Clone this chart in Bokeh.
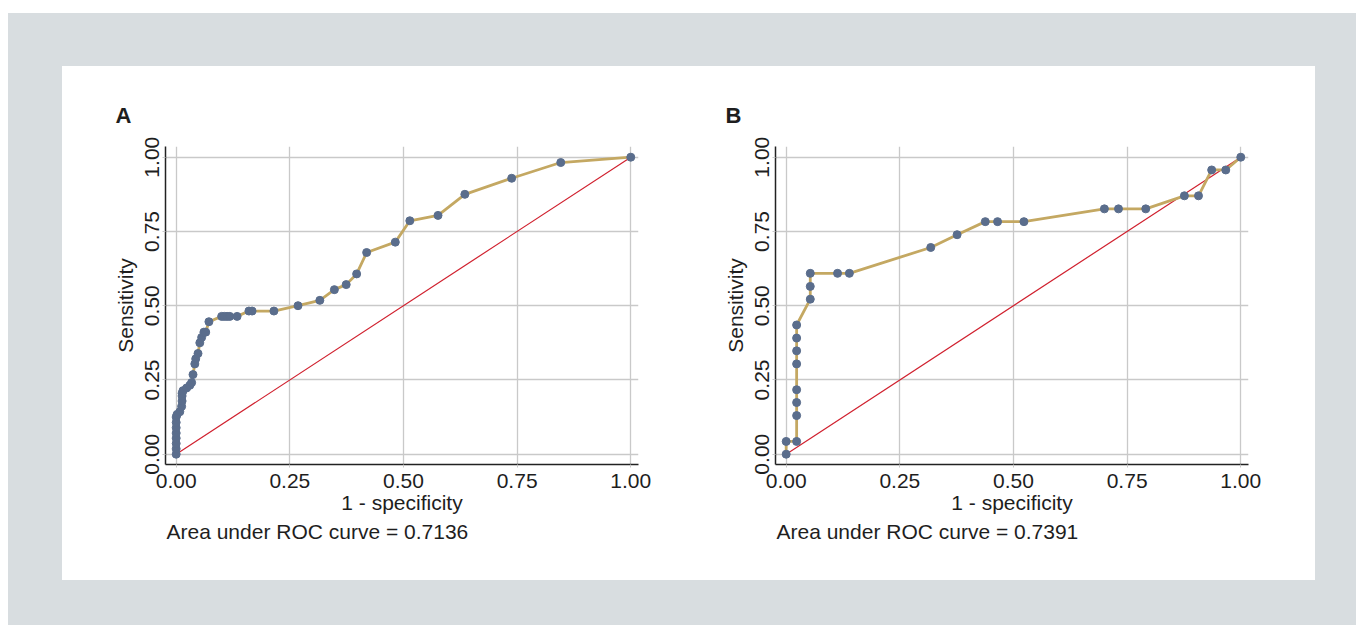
from bokeh.plotting import figure
from bokeh.layouts import row, column
from bokeh.models import Spacer, FixedTicker, Title, ColumnDataSource
from bokeh.embed import file_html
from bokeh.resources import INLINE

# ---- data ----
fpr_a = [0, 0, 0, 0, 0, 0, 0, 0,
         0.002, 0.008, 0.012, 0.013, 0.013, 0.013, 0.015, 0.023, 0.030, 0.034,
         0.037, 0.041, 0.043, 0.048, 0.052, 0.056, 0.061, 0.065, 0.072, 0.100,
         0.106, 0.112, 0.118, 0.134, 0.160, 0.167, 0.215, 0.268, 0.316, 0.348,
         0.374, 0.397, 0.419, 0.482, 0.514, 0.576, 0.635, 0.738, 0.846, 1.0]
tpr_a = [0, 0.018, 0.036, 0.054, 0.071, 0.089, 0.107, 0.125,
         0.134, 0.143, 0.161, 0.179, 0.196, 0.205, 0.214, 0.223, 0.232, 0.241,
         0.268, 0.304, 0.321, 0.339, 0.375, 0.393, 0.411, 0.411, 0.446, 0.464,
         0.464, 0.464, 0.464, 0.464, 0.482, 0.482, 0.482, 0.500, 0.518, 0.554,
         0.571, 0.607, 0.679, 0.714, 0.786, 0.804, 0.875, 0.929, 0.982, 1.0]

fpr_b = [0, 0, 0.023, 0.023, 0.023, 0.023, 0.023, 0.023, 0.023, 0.023,
         0.053, 0.053, 0.053, 0.113, 0.139, 0.318, 0.376, 0.438, 0.465, 0.523,
         0.700, 0.731, 0.791, 0.876, 0.907, 0.936, 0.967, 1.0]
tpr_b = [0, 0.043, 0.043, 0.130, 0.174, 0.217, 0.304, 0.348, 0.391, 0.435,
         0.522, 0.565, 0.609, 0.609, 0.609, 0.696, 0.739, 0.783, 0.783, 0.783,
         0.826, 0.826, 0.826, 0.870, 0.870, 0.957, 0.957, 1.0]

ref_x = [0, 1]
ref_y = [0, 1]

ticks = [0, 0.25, 0.5, 0.75, 1.0]
tick_labels = ["0.00", "0.25", "0.50", "0.75", "1.00"]

panel_titles = ["A", "B"]
auc_texts = ["Area under ROC curve = 0.7136", "Area under ROC curve = 0.7391"]
x_title = "1 - specificity"
y_title = "Sensitivity"

# ---- styles ----
GRAY = "#d8dde0"
FONT = "Liberation Sans"
CURVE = "#c4a862"
MARK = "#5a6d8c"
REF = "#d0202e"
GRID = "#c9c9c9"
TXT = "#1e1e1e"
FS = "21px"


def make_panel(fpr, tpr, title, auc, width):
    p = figure(width=width, height=514, output_backend="svg", toolbar_location=None,
               x_range=(-0.0235, 1.017), y_range=(-0.0347, 1.036),
               min_border_left=103, min_border_right=width - 103 - 473,
               min_border_top=80, min_border_bottom=116)
    p.border_fill_color = "white"
    p.background_fill_color = "white"
    p.outline_line_color = None

    p.title.text = title
    p.title.align = "left"
    p.title.offset = -50
    p.title.standoff = 37
    p.title.text_font = FONT
    p.title.text_font_size = "22px"
    p.title.text_font_style = "bold"
    p.title.text_color = TXT

    for ax in (p.xaxis[0], p.yaxis[0]):
        ax.ticker = FixedTicker(ticks=ticks)
        ax.major_label_overrides = {t: l for t, l in zip(ticks, tick_labels)}
        ax.axis_line_color = "#222222"
        ax.axis_line_width = 1.5
        ax.major_tick_in = 0
        ax.major_tick_out = 3
        ax.major_tick_line_color = GRID
        ax.minor_tick_line_color = None
        ax.major_label_text_font = FONT
        ax.major_label_text_font_size = FS
        ax.major_label_text_color = TXT
        ax.axis_label_text_font = FONT
        ax.axis_label_text_font_size = FS
        ax.axis_label_text_font_style = "normal"
        ax.axis_label_text_color = TXT

    p.xaxis.axis_label = x_title
    p.xaxis.major_label_standoff = 6
    p.xaxis.axis_label_standoff = 0
    p.yaxis.axis_label = y_title
    p.yaxis.major_label_orientation = "vertical"
    p.yaxis.major_label_standoff = 3
    p.yaxis.axis_label_standoff = 6

    p.xgrid.ticker = FixedTicker(ticks=ticks)
    p.ygrid.ticker = FixedTicker(ticks=ticks)
    for g in (p.xgrid[0], p.ygrid[0]):
        g.grid_line_color = GRID
        g.grid_line_width = 1.3

    src = ColumnDataSource(dict(x=fpr, y=tpr))
    p.line(ref_x, ref_y, line_color=REF, line_width=1.2)
    p.line("x", "y", source=src, line_color=CURVE, line_width=2.8)
    p.scatter("x", "y", source=src, size=8, fill_color=MARK, line_color=MARK)

    p.add_layout(Title(text=auc, align="left", offset=1, standoff=3,
                       text_font=FONT, text_font_size=FS, text_font_style="normal",
                       text_color=TXT), "below")
    return p


pA = make_panel(fpr_a, tpr_a, panel_titles[0], auc_texts[0], 610)
pB = make_panel(fpr_b, tpr_b, panel_titles[1], auc_texts[1], 643)

plots = row(pA, pB, styles={"background-color": "white"})
inner = column(Spacer(width=1253, height=53), plots, Spacer(width=1253, height=45))
outer = row(Spacer(width=54, height=612), inner, Spacer(width=41, height=612),
            styles={"background-color": GRAY})
page = column(Spacer(width=1356, height=13), row(Spacer(width=8, height=612), outer))

open("out.html", "w").write(file_html(page, INLINE))
